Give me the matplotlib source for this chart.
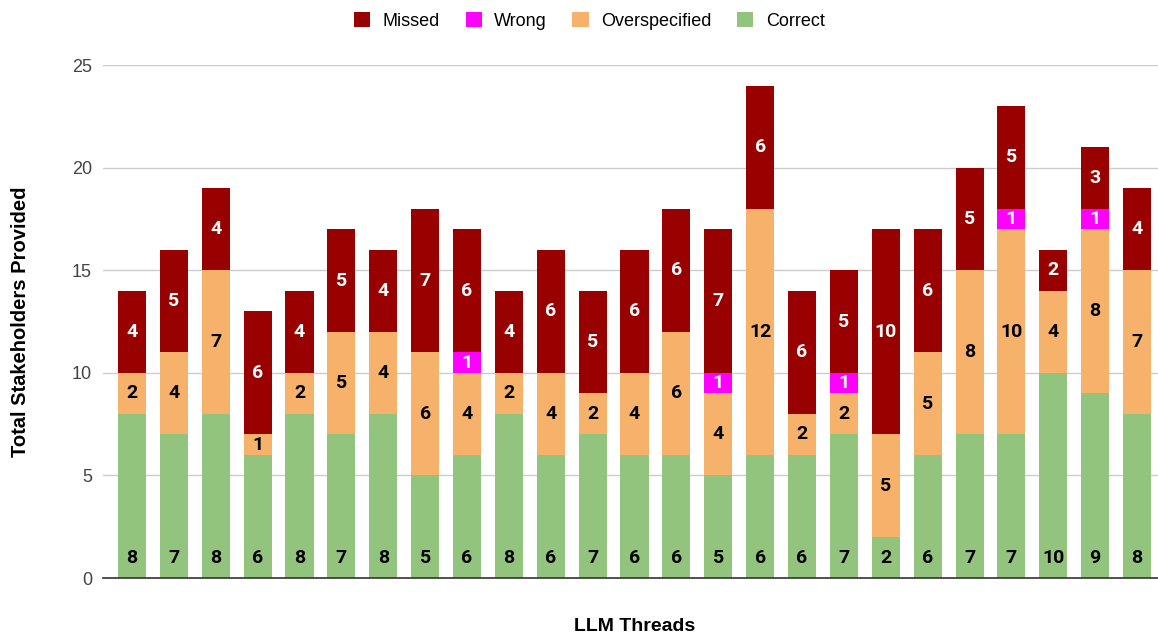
import matplotlib
matplotlib.use('Agg')
import matplotlib.pyplot as plt
from matplotlib.patches import Patch
import numpy as np

threads = list(range(1, 26))
correct = [8, 7, 8, 6, 8, 7, 8, 5, 6, 8, 6, 7, 6, 6, 5, 6, 6, 7, 2, 6, 7, 7, 10, 9, 8]
overspecified = [2, 4, 7, 1, 2, 5, 4, 6, 4, 2, 4, 2, 4, 6, 4, 12, 2, 2, 5, 5, 8, 10, 4, 8, 7]
wrong = [0, 0, 0, 0, 0, 0, 0, 0, 1, 0, 0, 0, 0, 0, 1, 0, 0, 1, 0, 0, 0, 1, 0, 1, 0]
missed = [4, 5, 4, 6, 4, 5, 4, 7, 6, 4, 6, 5, 6, 6, 7, 6, 6, 5, 10, 6, 5, 5, 2, 3, 4]

colors = {'Correct': '#93c47d', 'Overspecified': '#f6b26b',
          'Wrong': '#ff00ff', 'Missed': '#990000'}

fig = plt.figure(figsize=(11.58, 6.38), dpi=100)
ax = fig.add_axes([0.089, 0.094, 0.911, 0.804])

x = np.arange(len(threads))
width = 0.67
series = [('Correct', correct, 'black'), ('Overspecified', overspecified, 'black'),
          ('Wrong', wrong, 'white'), ('Missed', missed, 'white')]
bottom = np.zeros(len(threads))
for name, vals, tcol in series:
    vals = np.array(vals)
    ax.bar(x, vals, width, bottom=bottom, color=colors[name], zorder=3)
    for i, v in enumerate(vals):
        if v == 0:
            continue
        # green counts sit at the foot of the bar, the rest are centred
        if name == 'Correct':
            y = 1.0
        else:
            y = bottom[i] + v / 2
        ax.text(x[i], y, str(v), ha='center', va='center', color=tcol,
                fontsize=14, fontweight='bold', family='Roboto', zorder=4)
    bottom += vals

ax.set_xlim(-0.69, 24.5)
ax.set_ylim(0, 25)
ax.set_yticks([0, 5, 10, 15, 20, 25])
ax.set_xticks([])
ax.grid(axis='y', color='#cccccc', linewidth=1, zorder=0)
for s in ['top', 'right', 'left']:
    ax.spines[s].set_visible(False)
ax.spines['bottom'].set_color('#333333')
ax.spines['bottom'].set_linewidth(1.2)
ax.spines['bottom'].set_zorder(5)
ax.tick_params(axis='y', length=0, pad=8, labelsize=13, labelcolor='#444444')
for lbl in ax.get_yticklabels():
    lbl.set_family('Liberation Sans')

fig.text(0.018, 0.495, 'Total Stakeholders Provided', rotation=90, ha='center',
         va='center', fontsize=14.5, fontweight='bold', family='Liberation Sans')
fig.text(0.548, 0.004, 'LLM Threads', ha='center', va='bottom', fontsize=14,
         fontweight='bold', family='Liberation Sans')

handles = [Patch(facecolor=colors[n]) for n in ['Missed', 'Wrong', 'Overspecified', 'Correct']]
fig.legend(handles, ['Missed', 'Wrong', 'Overspecified', 'Correct'], loc='center',
           bbox_to_anchor=(0.509, 0.967), ncol=4, frameon=False,
           prop={'family': 'Liberation Sans', 'size': 13}, handlelength=0.9,
           handleheight=0.9, handletextpad=0.7, columnspacing=1.4)

fig.savefig('out.png', dpi=100)
